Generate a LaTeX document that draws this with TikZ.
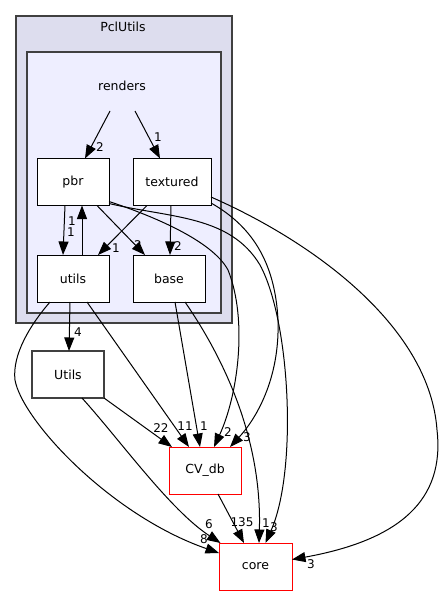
\documentclass[tikz,border=0pt]{standalone}
\usepackage{fontspec}
\setmainfont{DejaVu Sans}
\usetikzlibrary{arrows.meta}
\definecolor{clusterA}{HTML}{DDDDEE}
\definecolor{clusterB}{HTML}{EEEEFF}
\definecolor{borderg}{HTML}{404040}
\begin{document}
\begin{tikzpicture}[x=1pt,y=-1pt,
  dirbox/.style={draw=black, line width=1pt, fill=white, minimum width=72pt, minimum height=47pt, inner sep=0pt, outer sep=0pt, font=\fontsize{12.5}{14}\selectfont},
  extbox/.style={dirbox, draw=borderg, line width=1.3pt},
  redbox/.style={dirbox, draw=red},
  dep/.style={draw=black, line width=1pt, -{Triangle[length=13.5pt,width=10pt]}},
  lbl/.style={inner sep=0pt, font=\fontsize{12}{14}\selectfont},
  pclbox/.style={draw=borderg, fill=clusterA, line width=1.3pt, inner sep=0pt, outer sep=0pt},
  rendbox/.style={draw=borderg, fill=clusterB, line width=1.3pt, inner sep=0pt, outer sep=0pt},
  clabel/.style={inner sep=0pt, font=\fontsize{12.5}{14}\selectfont}]
\useasboundingbox (0,0) rectangle (443,596);
% clusters
\node[pclbox, minimum width=216pt, minimum height=307pt] (pcl) at (124,169.5) {};
\node[clabel] (pcllabel) at (123,27) {PclUtils};
\node[rendbox, minimum width=194pt, minimum height=261pt] (rend) at (124,182.5) {};
\node[clabel] (rendlabel) at (122,86) {renders};
\coordinate (r1) at (110,111);
\coordinate (r2) at (135,111);
% nodes
\node[dirbox] (pbr) at (73,182) {pbr};
\node[dirbox, minimum width=78pt] (textured) at (172,182) {textured};
\node[dirbox] (utils) at (73,278.5) {utils};
\node[dirbox] (base) at (169,278.5) {base};
\node[extbox] (Utils) at (68,374.5) {Utils};
\node[redbox] (cvdb) at (205,470.5) {CV\_db};
\node[redbox, minimum width=73pt] (core) at (255.5,566.5) {core};
% edges inside renders
\draw[dep] (r1) -- ([xshift=12pt]pbr.north);
\draw[dep] (r2) -- ([xshift=-12pt]textured.north);
\draw[dep] ([xshift=-8pt]pbr.south) -- ([xshift=-10pt]utils.north);
\draw[dep] ([xshift=9pt]utils.north) -- ([xshift=9pt]pbr.south);
\draw[dep] ([xshift=24pt]pbr.south) -- ([xshift=-24pt]base.north);
\draw[dep] ([xshift=-25pt]textured.south) -- ([xshift=25pt]utils.north);
\draw[dep] ([xshift=-1pt]textured.south) -- ([xshift=1pt]base.north);
% long edges
\draw[dep] ([yshift=4pt]pbr.south east) .. controls (150,215) and (212,240) .. (228,270)
  .. controls (248,320) and (238,395) .. ([xshift=9pt]cvdb.north);
\draw[dep] ([yshift=2pt]pbr.south east) .. controls (170,218) and (230,215) .. (260,265)
  .. controls (290,320) and (298,470) .. ([xshift=10pt]core.north);
\draw[dep] ([yshift=2.5pt]textured.south east) .. controls (250,225) and (275,260) .. (278,320)
  .. controls (280,380) and (255,420) .. ([xshift=25pt]cvdb.north);
\draw[dep] ([yshift=-15pt]textured.east) .. controls (320,245) and (430,330) .. (437,430)
  .. controls (445,500) and (400,540) .. ([yshift=7pt]core.east);
\draw[dep] ([xshift=6pt]base.south) -- ([xshift=-5pt]cvdb.north);
\draw[dep] ([xshift=16pt]base.south) .. controls (225,360) and (262,440) .. ([xshift=3.5pt]core.north);
\draw[dep] ([xshift=14pt]utils.south) -- ([xshift=-16pt]cvdb.north);
\draw[dep] (Utils.south east) -- ([xshift=-33pt]cvdb.north);
\draw[dep] ([xshift=-3pt]utils.south) -- ([xshift=1pt]Utils.north);
\draw[dep] ([xshift=-23pt]utils.south) .. controls (30,325) and (12,355) .. (15,380)
  .. controls (22,420) and (110,515) .. ([yshift=13.5pt]core.west);
\draw[dep] ([xshift=14pt]Utils.south) .. controls (120,440) and (170,510) .. ([xshift=-35pt]core.north);
\draw[dep] ([xshift=13pt]cvdb.south) -- ([xshift=-11.5pt]core.north);
% labels
\node[lbl] (l1) at (100,147) {2};
\node[lbl] (l2) at (158,137) {1};
\node[lbl] (l3) at (72,221) {1};
\node[lbl] (l4) at (71,232) {1};
\node[lbl] (l5) at (138,245) {2};
\node[lbl] (l6) at (116,248) {1};
\node[lbl] (l7) at (178,246) {2};
\node[lbl] (l8) at (78,332) {4};
\node[lbl] (l9) at (161,428) {22};
\node[lbl] (l10) at (185,426) {11};
\node[lbl] (l11) at (204,426) {1};
\node[lbl] (l12) at (228,432) {2};
\node[lbl] (l13) at (247,437) {3};
\node[lbl] (l14) at (209,524) {6};
\node[lbl] (l15) at (204,539) {8};
\node[lbl] (l16) at (242,522) {135};
\node[lbl] (l17) at (266,523) {1};
\node[lbl] (l18) at (274,527) {3};
\node[lbl] (l19) at (311,564) {3};
\end{tikzpicture}
\end{document}
